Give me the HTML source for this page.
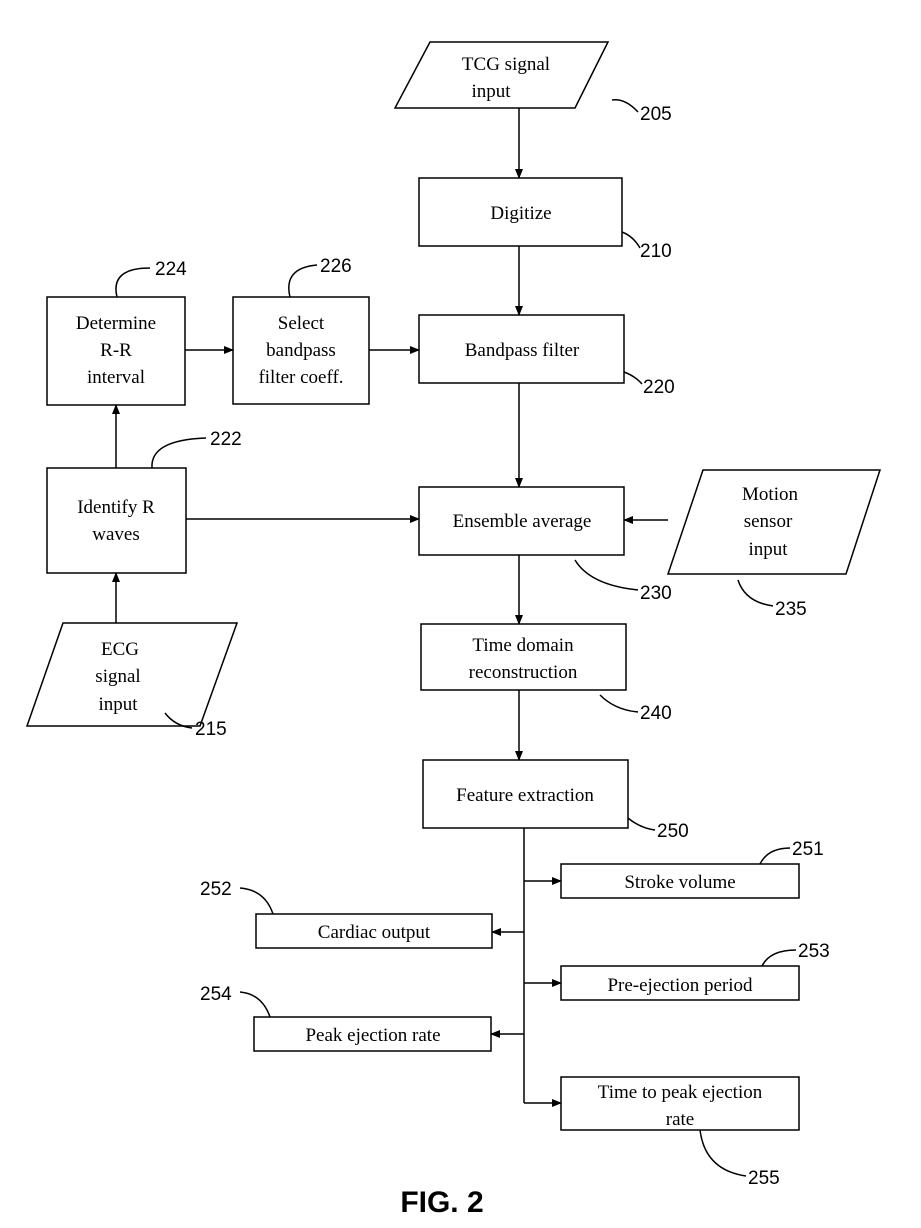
<!DOCTYPE html>
<html><head><meta charset="utf-8"><style>
html,body{margin:0;padding:0;background:#fff;}
svg{display:block;}
text{font-family:"Liberation Serif",serif;font-size:19px;fill:#000;}
.n{font-family:"Liberation Sans",sans-serif;font-size:19px;}
</style></head><body>
<svg width="921" height="1228" viewBox="0 0 921 1228" xmlns="http://www.w3.org/2000/svg">
<defs><marker id="a" markerWidth="10" markerHeight="8" refX="9" refY="4" orient="auto" markerUnits="userSpaceOnUse"><path d="M0,0 L10,4 L0,8 z" fill="#000"/></marker></defs>
<g fill="none" stroke="#000" stroke-width="1.5">
<polygon points="430,42 608,42 575,108 395,108"/>
<rect x="419" y="178" width="203" height="68"/>
<rect x="419" y="315" width="205" height="68"/>
<rect x="419" y="487" width="205" height="68"/>
<polygon points="703,470 880,470 846,574 668,574"/>
<rect x="421" y="624" width="205" height="66"/>
<rect x="423" y="760" width="205" height="68"/>
<rect x="561" y="864" width="238" height="34"/>
<rect x="256" y="914" width="236" height="34"/>
<rect x="561" y="966" width="238" height="34"/>
<rect x="254" y="1017" width="237" height="34"/>
<rect x="561" y="1077" width="238" height="53"/>
<rect x="47" y="297" width="138" height="108"/>
<rect x="233" y="297" width="136" height="107"/>
<rect x="47" y="468" width="139" height="105"/>
<polygon points="63,623 237,623 200,726 27,726"/>
<g marker-end="url(#a)">
<line x1="519" y1="108" x2="519" y2="178"/>
<line x1="519" y1="246" x2="519" y2="315"/>
<line x1="519" y1="383" x2="519" y2="487"/>
<line x1="668" y1="520" x2="624" y2="520"/>
<line x1="519" y1="555" x2="519" y2="624"/>
<line x1="519" y1="690" x2="519" y2="760"/>
<line x1="524" y1="881" x2="561" y2="881"/>
<line x1="524" y1="932" x2="492" y2="932"/>
<line x1="524" y1="983" x2="561" y2="983"/>
<line x1="524" y1="1034" x2="491" y2="1034"/>
<line x1="524" y1="1103" x2="561" y2="1103"/>
<line x1="185" y1="350" x2="233" y2="350"/>
<line x1="369" y1="350" x2="419" y2="350"/>
<line x1="116" y1="468" x2="116" y2="405"/>
<line x1="186" y1="519" x2="419" y2="519"/>
<line x1="116" y1="623" x2="116" y2="573"/>
</g>
<line x1="524" y1="828" x2="524" y2="1103"/>
<path d="M612,100 Q625,98 638,112"/>
<path d="M622,232 Q633,236 640,248"/>
<path d="M624,372 Q635,376 642,384"/>
<path d="M575,560 Q590,585 638,590"/>
<path d="M738,580 Q745,602 773,606"/>
<path d="M600,695 Q615,710 638,712"/>
<path d="M628,818 Q640,828 655,830"/>
<path d="M760,864 Q768,848 790,848"/>
<path d="M273,914 Q265,890 240,888"/>
<path d="M762,966 Q770,950 796,950"/>
<path d="M270,1017 Q262,994 240,992"/>
<path d="M700,1130 Q705,1170 746,1176"/>
<path d="M117,297 Q110,268 150,268"/>
<path d="M290,297 Q283,268 317,265"/>
<path d="M152,468 Q150,440 206,438"/>
<path d="M165,713 Q175,726 192,728"/>
</g>
<g text-anchor="middle">
<text x="506" y="70">TCG signal</text><text x="491" y="97">input</text>
<text x="521" y="219">Digitize</text>
<text x="522" y="356">Bandpass filter</text>
<text x="522" y="527">Ensemble average</text>
<text x="770" y="500">Motion</text><text x="768" y="527">sensor</text><text x="768" y="555">input</text>
<text x="523" y="651">Time domain</text><text x="523" y="678">reconstruction</text>
<text x="525" y="801">Feature extraction</text>
<text x="680" y="888">Stroke volume</text>
<text x="374" y="938">Cardiac output</text>
<text x="680" y="991">Pre-ejection period</text>
<text x="373" y="1041">Peak ejection rate</text>
<text x="680" y="1098">Time to peak ejection</text><text x="680" y="1125">rate</text>
<text x="116" y="329">Determine</text><text x="116" y="356">R-R</text><text x="116" y="383">interval</text>
<text x="301" y="329">Select</text><text x="301" y="356">bandpass</text><text x="301" y="383">filter coeff.</text>
<text x="116" y="513">Identify R</text><text x="116" y="540">waves</text>
<text x="120" y="655">ECG</text><text x="118" y="682">signal</text><text x="118" y="710">input</text>
</g>
<g class="n">
<text class="n" x="640" y="120">205</text>
<text class="n" x="640" y="257">210</text>
<text class="n" x="643" y="393">220</text>
<text class="n" x="640" y="599">230</text>
<text class="n" x="775" y="615">235</text>
<text class="n" x="640" y="719">240</text>
<text class="n" x="657" y="837">250</text>
<text class="n" x="792" y="855">251</text>
<text class="n" x="200" y="895">252</text>
<text class="n" x="798" y="957">253</text>
<text class="n" x="200" y="1000">254</text>
<text class="n" x="748" y="1184">255</text>
<text class="n" x="155" y="275">224</text>
<text class="n" x="320" y="272">226</text>
<text class="n" x="210" y="445">222</text>
<text class="n" x="195" y="735">215</text>
</g>
<text x="442" y="1212" text-anchor="middle" style="font-family:'Liberation Sans',sans-serif;font-size:30px;font-weight:bold;">FIG. 2</text>
</svg>
</body></html>
